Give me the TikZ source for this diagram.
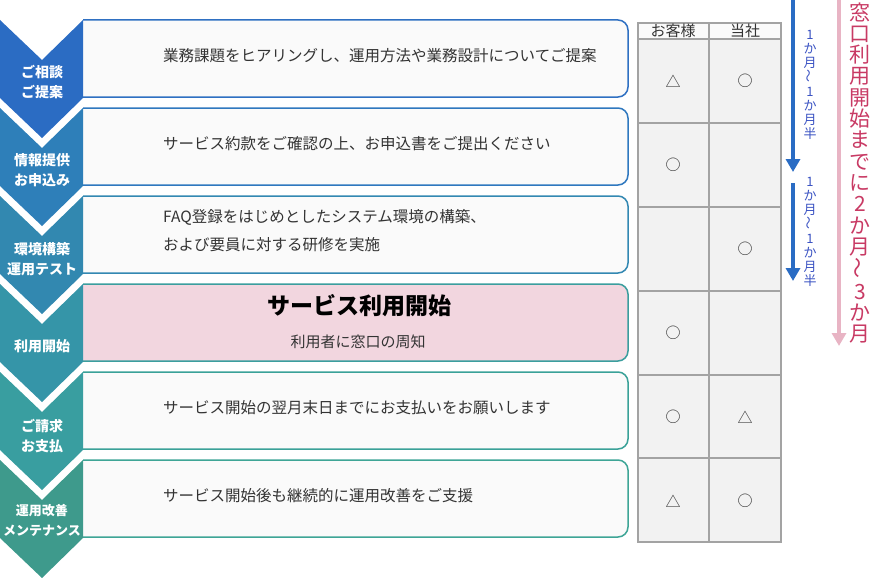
\documentclass[tikz,border=0pt]{standalone}
\usepackage{fontspec}
\setmainfont{Noto Sans CJK JP}
\usetikzlibrary{arrows.meta}
\definecolor{textgray}{HTML}{333333}
\definecolor{boxfill}{HTML}{FAFAFA}
\definecolor{startfill}{HTML}{F2D6DF}
\definecolor{cellfill}{HTML}{F2F2F2}
\definecolor{gridgray}{HTML}{A3A3A3}
\definecolor{chevA}{HTML}{2B6CC3}
\definecolor{chevB}{HTML}{2E7FB9}
\definecolor{chevC}{HTML}{3288B0}
\definecolor{chevD}{HTML}{3595A8}
\definecolor{chevE}{HTML}{399EA0}
\definecolor{chevF}{HTML}{3E9A8C}
\definecolor{lineA}{HTML}{2F70C2}
\definecolor{lineB}{HTML}{2F78BF}
\definecolor{lineC}{HTML}{3388B2}
\definecolor{lineD}{HTML}{3B9E9E}
\definecolor{lineE}{HTML}{3AA198}
\definecolor{lineF}{HTML}{3EA596}
\definecolor{termblue}{HTML}{2A6CC4}
\definecolor{termbluetext}{HTML}{3A52C2}
\definecolor{termpink}{HTML}{E8B4C4}
\definecolor{termpinktext}{HTML}{C83A64}
\tikzstyle{stepbox} = [fill=boxfill, line width=1.5pt]
\tikzstyle{steplabel} = [text=white, font=\fontsize{14}{20}\selectfont\bfseries,
    align=center, inner sep=0pt]
\tikzstyle{boxtext} = [text=textgray, font=\fontsize{15.5}{28}\selectfont,
    anchor=west, align=left, inner sep=0pt]
\tikzstyle{gridline} = [draw=gridgray, line width=1.2pt]
\tikzstyle{cellmark} = [text=textgray, font=\fontsize{15}{15}\selectfont, inner sep=0pt]
\tikzstyle{termarrow} = [line width=4.5pt, -{Triangle[width=14pt,length=13pt]}]

\begin{document}
\begin{tikzpicture}[x=1pt, y=-1pt]
\useasboundingbox (0,0) rectangle (873,578);
% boxes
\draw[stepbox, draw=lineA] (83,20) -- (618,20) arc[start angle=-90, end angle=0, radius=10]
    -- (628,87) arc[start angle=0, end angle=90, radius=10] -- (83,97);
\draw[stepbox, draw=lineB] (83,108) -- (618,108) arc[start angle=-90, end angle=0, radius=10]
    -- (628,175) arc[start angle=0, end angle=90, radius=10] -- (83,185);
\draw[stepbox, draw=lineC] (83,196) -- (618,196) arc[start angle=-90, end angle=0, radius=10]
    -- (628,263) arc[start angle=0, end angle=90, radius=10] -- (83,273);
\draw[stepbox, draw=lineD, fill=startfill] (83,284) -- (618,284) arc[start angle=-90, end angle=0, radius=10]
    -- (628,351) arc[start angle=0, end angle=90, radius=10] -- (83,361);
\draw[stepbox, draw=lineE] (83,372) -- (618,372) arc[start angle=-90, end angle=0, radius=10]
    -- (628,439) arc[start angle=0, end angle=90, radius=10] -- (83,449);
\draw[stepbox, draw=lineF] (83,460) -- (618,460) arc[start angle=-90, end angle=0, radius=10]
    -- (628,527) arc[start angle=0, end angle=90, radius=10] -- (83,537);
% chevrons
\fill[chevA] (0,20) -- (42,60) -- (83,20) -- (83,98) -- (42,138) -- (0,98) -- cycle;
\fill[chevB] (0,108) -- (42,148) -- (83,108) -- (83,186) -- (42,226) -- (0,186) -- cycle;
\fill[chevC] (0,196) -- (42,236) -- (83,196) -- (83,274) -- (42,314) -- (0,274) -- cycle;
\fill[chevD] (0,284) -- (42,324) -- (83,284) -- (83,362) -- (42,402) -- (0,362) -- cycle;
\fill[chevE] (0,372) -- (42,412) -- (83,372) -- (83,450) -- (42,490) -- (0,450) -- cycle;
\fill[chevF] (0,460) -- (42,500) -- (83,460) -- (83,538) -- (42,578) -- (0,538) -- cycle;
\node[steplabel] (consult) at (42,82) {ご相談\\ご提案};
\node[steplabel] (apply) at (42,170) {情報提供\\お申込み};
\node[steplabel] (setup) at (42,259) {環境構築\\運用テスト};
\node[steplabel] (start) at (42,346) {利用開始};
\node[steplabel] (billing) at (42,436) {ご請求\\お支払};
\node[steplabel, font=\fontsize{13}{20}\selectfont\bfseries] (support) at (42,520) {運用改善\\メンテナンス};
% box texts
\node[boxtext] (consulttext) at (163,56) {業務課題をヒアリングし、運用方法や業務設計についてご提案};
\node[boxtext] (applytext) at (163,144) {サービス約款をご確認の上、お申込書をご提出ください};
\node[boxtext] (setuptext) at (163,231) {FAQ登録をはじめとしたシステム環境の構築、\\および要員に対する研修を実施};
\node[text=black, font=\fontsize{23}{23}\selectfont\bfseries, inner sep=0pt] (starttitle) at (359,306) {サービス利用開始};
\node[boxtext, font=\fontsize{15}{15}\selectfont, anchor=center] (starttext) at (358,342) {利用者に窓口の周知};
\node[boxtext] (billingtext) at (163,408) {サービス開始の翌月末日までにお支払いをお願いします};
\node[boxtext] (supporttext) at (163,496) {サービス開始後も継続的に運用改善をご支援};
% table
\fill[cellfill] (638,39) rectangle (781,542);
\fill[boxfill] (638,23) rectangle (781,39);
\draw[gridline] (638,23) rectangle (781,542);
\draw[gridline] (709,23) -- (709,542);
\draw[gridline] (638,39) -- (781,39) (638,123) -- (781,123) (638,207) -- (781,207)
    (638,291) -- (781,291) (638,375) -- (781,375) (638,458) -- (781,458);
\node[cellmark] (client) at (673,31) {お客様};
\node[cellmark] (vendor) at (745,31) {当社};
\node[cellmark] (clientA) at (673,81) {△};
\node[cellmark] (vendorA) at (745,81) {○};
\node[cellmark] (clientB) at (673,165) {○};
\node[cellmark] (vendorC) at (745,249) {○};
\node[cellmark] (clientD) at (673,333) {○};
\node[cellmark] (clientE) at (673,417) {○};
\node[cellmark] (vendorE) at (745,417) {△};
\node[cellmark] (clientF) at (673,501) {△};
\node[cellmark] (vendorF) at (745,501) {○};
% terms
\coordinate (firsttop) at (793,0);
\coordinate (firstend) at (793,172);
\coordinate (secondtop) at (793,183);
\coordinate (secondend) at (793,281);
\coordinate (totaltop) at (839,0);
\coordinate (totalend) at (839,346);
\draw[termarrow, draw=termblue, fill=termblue] (firsttop) -- (firstend);
\draw[termarrow, draw=termblue, fill=termblue] (secondtop) -- (secondend);
\draw[termarrow, draw=termpink, fill=termpink] (totaltop) -- (totalend);
\node[text=termbluetext, font=\fontsize{13}{14.2}\selectfont, align=center, inner sep=0pt]
    (firstterm) at (810,85) {1\\か\\月\\\rotatebox{90}{～}\\1\\か\\月\\半};
\node[text=termbluetext, font=\fontsize{13}{14.2}\selectfont, align=center, inner sep=0pt]
    (secondterm) at (810,232) {1\\か\\月\\\rotatebox{90}{～}\\1\\か\\月\\半};
\node[text=termpinktext, font=\fontsize{21}{21.3}\selectfont, align=center, inner sep=0pt]
    (totalterm) at (860,173) {窓\\口\\利\\用\\開\\始\\ま\\で\\に\\2\\か\\月\\\rotatebox{90}{～}\\3\\か\\月};
\end{tikzpicture}
\end{document}
